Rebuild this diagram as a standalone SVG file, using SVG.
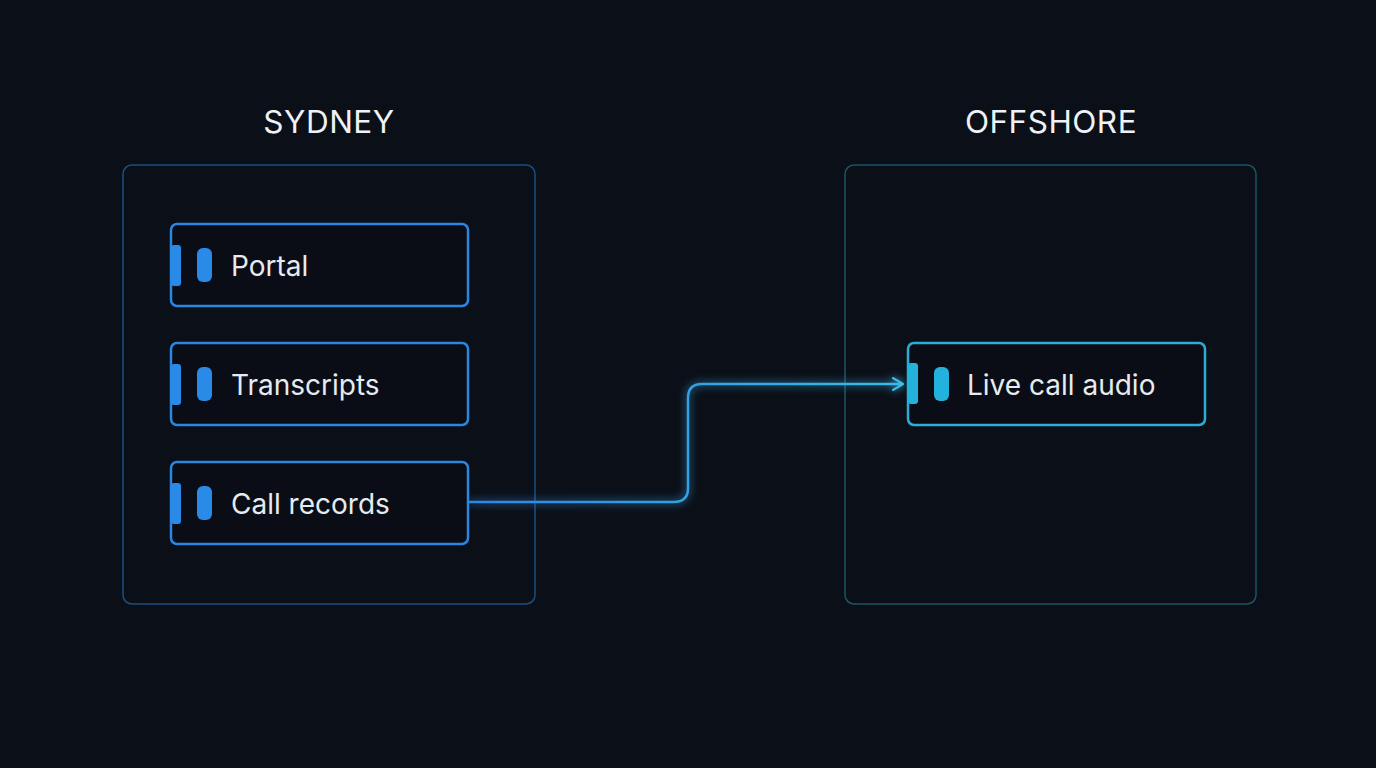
<svg xmlns="http://www.w3.org/2000/svg" width="1376" height="768" viewBox="0 0 1376 768">
<defs>
<style>
.title{font-family:Inter,"Liberation Sans",sans-serif;font-size:31.5px;fill:#eef2f6;text-anchor:middle;letter-spacing:0.5px}
.lbl{font-family:Inter,"Liberation Sans",sans-serif;font-size:28px;fill:#e6ebf0}
.zone-s{fill:none;stroke:#1d4f82;stroke-width:1.5}
.zone-o{fill:none;stroke:#1b5566;stroke-width:1.5}
.node-b{fill:#0a0d15;stroke:#2a86e0;stroke-width:2.5}
.node-c{fill:#0a0d15;stroke:#2aaed6;stroke-width:2.5}
.tab-b{fill:#2a8ae8}
.tab-c{fill:#22b2dc}
</style>
<linearGradient id="wire" x1="468" y1="0" x2="905" y2="0" gradientUnits="userSpaceOnUse">
<stop offset="0" stop-color="#2c86e4"/>
<stop offset="1" stop-color="#3abbe6"/>
</linearGradient>
<filter id="glow" x="-20%" y="-20%" width="140%" height="140%">
<feGaussianBlur stdDeviation="4" result="b"/>
<feMerge><feMergeNode in="b"/><feMergeNode in="SourceGraphic"/></feMerge>
</filter>
<marker id="arr" viewBox="0 0 12 14" refX="11" refY="7" markerWidth="12" markerHeight="14" markerUnits="userSpaceOnUse" orient="auto">
<path d="M1 1 L11 7 L1 13" fill="none" stroke="#3abbe6" stroke-width="2.2" stroke-linecap="round" stroke-linejoin="round"/>
</marker>
</defs>
<rect width="1376" height="768" fill="#0b0f17"/>

<g id="sydney">
<text class="title" x="329" y="133">SYDNEY</text>
<rect class="zone-s" x="123" y="165" width="412" height="439" rx="9"/>
</g>
<g id="offshore">
<text class="title" x="1051" y="133">OFFSHORE</text>
<rect class="zone-o" x="845" y="165" width="411" height="439" rx="9"/>
</g>

<g id="connectors">
<path d="M468 502 H674 Q688 502 688 488 V398 Q688 384 702 384 H903" fill="none" stroke="url(#wire)" stroke-width="2.5" filter="url(#glow)" marker-end="url(#arr)"/>
</g>

<g id="portal">
<rect class="node-b" x="171" y="224" width="297" height="82" rx="6"/>
<rect class="tab-b" x="171" y="245" width="10" height="41" rx="3"/>
<rect class="tab-b" x="197" y="248" width="15" height="34" rx="6"/>
<text class="lbl" x="231" y="276">Portal</text>
</g>
<g id="transcripts">
<rect class="node-b" x="171" y="343" width="297" height="82" rx="6"/>
<rect class="tab-b" x="171" y="364" width="10" height="41" rx="3"/>
<rect class="tab-b" x="197" y="367" width="15" height="34" rx="6"/>
<text class="lbl" x="231" y="395">Transcripts</text>
</g>
<g id="call-records">
<rect class="node-b" x="171" y="462" width="297" height="82" rx="6"/>
<rect class="tab-b" x="171" y="483" width="10" height="41" rx="3"/>
<rect class="tab-b" x="197" y="486" width="15" height="34" rx="6"/>
<text class="lbl" x="231" y="514">Call records</text>
</g>
<g id="live-call-audio">
<rect class="node-c" x="908" y="343" width="297" height="82" rx="6"/>
<rect class="tab-c" x="908" y="363" width="10" height="41" rx="3"/>
<rect class="tab-c" x="934" y="367" width="15" height="34" rx="6"/>
<text class="lbl" x="967" y="395">Live call audio</text>
</g>
</svg>
